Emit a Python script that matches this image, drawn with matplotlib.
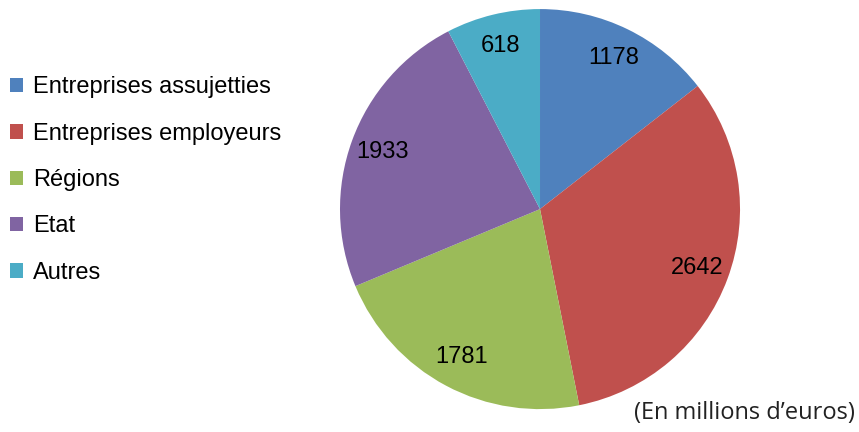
import matplotlib
matplotlib.use('Agg')
import matplotlib.pyplot as plt
from matplotlib.patches import Patch

# data
categories = ['Entreprises assujetties', 'Entreprises employeurs', 'Régions', 'Etat', 'Autres']
values = [1178, 2642, 1781, 1933, 618]
colors = ['#4F81BD', '#C0504D', '#9BBB59', '#8064A2', '#4BACC6']

fig = plt.figure(figsize=(8.59, 4.32), dpi=100)
ax = fig.add_axes([0.3958, 0.053, 0.4657, 0.926])

wedges, texts, autotexts = ax.pie(values, colors=colors, startangle=90, counterclock=False,
                                  autopct=lambda p: '%d' % round(p * sum(values) / 100),
                                  pctdistance=0.84, radius=1,
                                  textprops={'fontsize': 17, 'family': 'Liberation Sans'})
ax.set_xlim(-1, 1)
ax.set_ylim(-1, 1)
ax.set_aspect('equal')

handles = [Patch(facecolor=c, edgecolor='none') for c in colors]
fig.legend(handles, categories, loc='upper left', bbox_to_anchor=(0.012, 0.823),
           frameon=False, prop={'family': 'Liberation Sans', 'size': 17},
           handlelength=0.55, handleheight=0.55, handletextpad=0.4, labelspacing=1.03,
           borderaxespad=0, borderpad=0)

fig.text(0.995, 0.03, '(En millions d\u2019euros)', ha='right', va='baseline',
         fontsize=17, family='Open Sans', color='#222222')

plt.savefig('out.png', dpi=100)
